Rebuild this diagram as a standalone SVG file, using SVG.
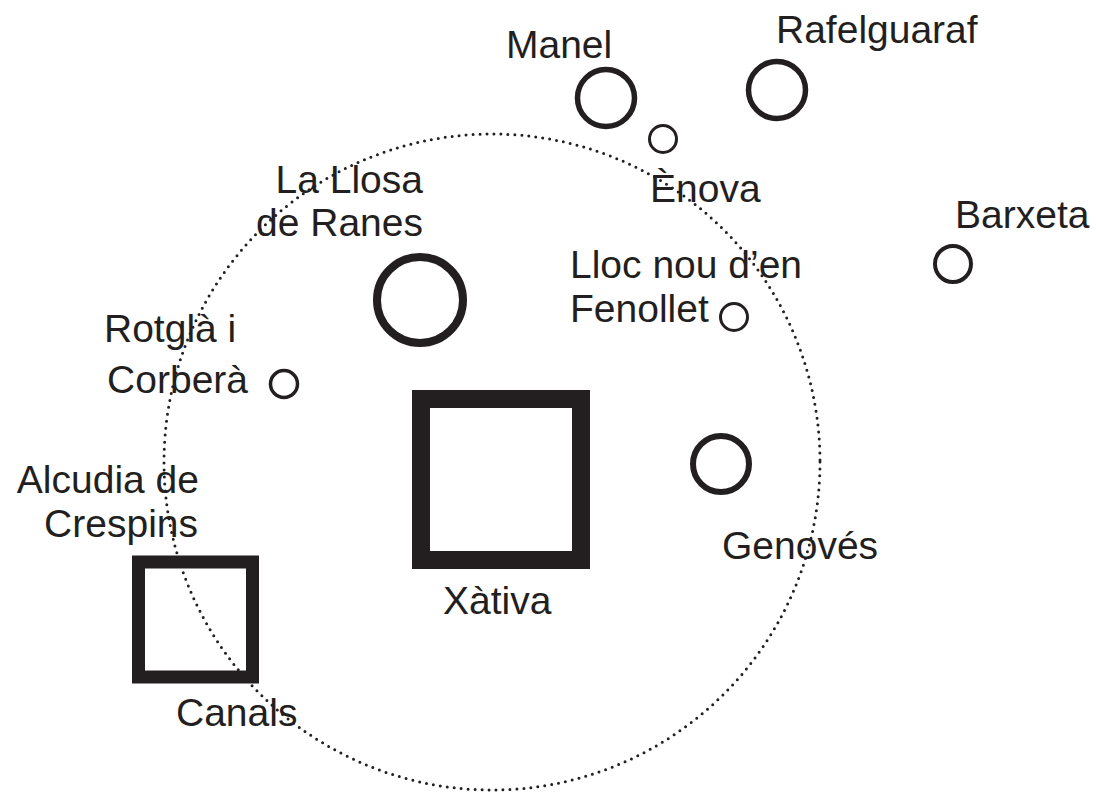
<svg xmlns="http://www.w3.org/2000/svg" width="1096" height="795" viewBox="0 0 1096 795">
<style>
text{font-family:"Liberation Sans",Arial,sans-serif;font-size:39px;fill:#231f20}
.c{fill:none;stroke:#231f20}
.sq{fill:none;stroke:#231f20}
.dot{fill:none;stroke:#231f20;stroke-width:3;stroke-linecap:round;stroke-dasharray:0 7}
</style>
<rect width="1096" height="795" fill="#fff"/>
<g id="connectors">
<circle class="dot" cx="492" cy="462" r="328"/>
</g>
<g id="xativa"><rect class="sq" x="421" y="399" width="160" height="161" stroke-width="18"/><text x="443" y="614">Xàtiva</text></g>
<g id="canals"><rect class="sq" x="138.5" y="562" width="114" height="115" stroke-width="13"/><text x="176" y="726">Canals</text></g>
<g id="manel"><circle class="c" cx="606" cy="98" r="28.5" stroke-width="5.5"/><text x="506" y="58">Manel</text></g>
<g id="rafelguaraf"><circle class="c" cx="777" cy="90" r="28.5" stroke-width="5.5"/><text x="776" y="43">Rafelguaraf</text></g>
<g id="enova"><circle class="c" cx="663" cy="139" r="13.5" stroke-width="3"/><text x="650" y="202">Ènova</text></g>
<g id="barxeta"><circle class="c" cx="953" cy="264" r="18" stroke-width="4"/><text x="955" y="228">Barxeta</text></g>
<g id="lallosa"><circle class="c" cx="420" cy="300" r="43" stroke-width="8"/><text x="423" y="193" text-anchor="end">La Llosa</text><text x="423" y="236" text-anchor="end">de Ranes</text></g>
<g id="llocnou"><circle class="c" cx="734" cy="317" r="13.5" stroke-width="3"/><text x="570" y="278">Lloc nou d’en</text><text x="570" y="322">Fenollet</text></g>
<g id="rotgla"><circle class="c" cx="284" cy="384" r="13.5" stroke-width="3.5"/><text x="104" y="342">Rotglà i</text><text x="248" y="393" text-anchor="end">Corberà</text></g>
<g id="alcudia"><text x="199" y="493" text-anchor="end">Alcudia de</text><text x="198" y="537" text-anchor="end">Crespins</text></g>
<g id="genoves"><circle class="c" cx="721" cy="464" r="28" stroke-width="6"/><text x="722" y="559">Genovés</text></g>
</svg>
